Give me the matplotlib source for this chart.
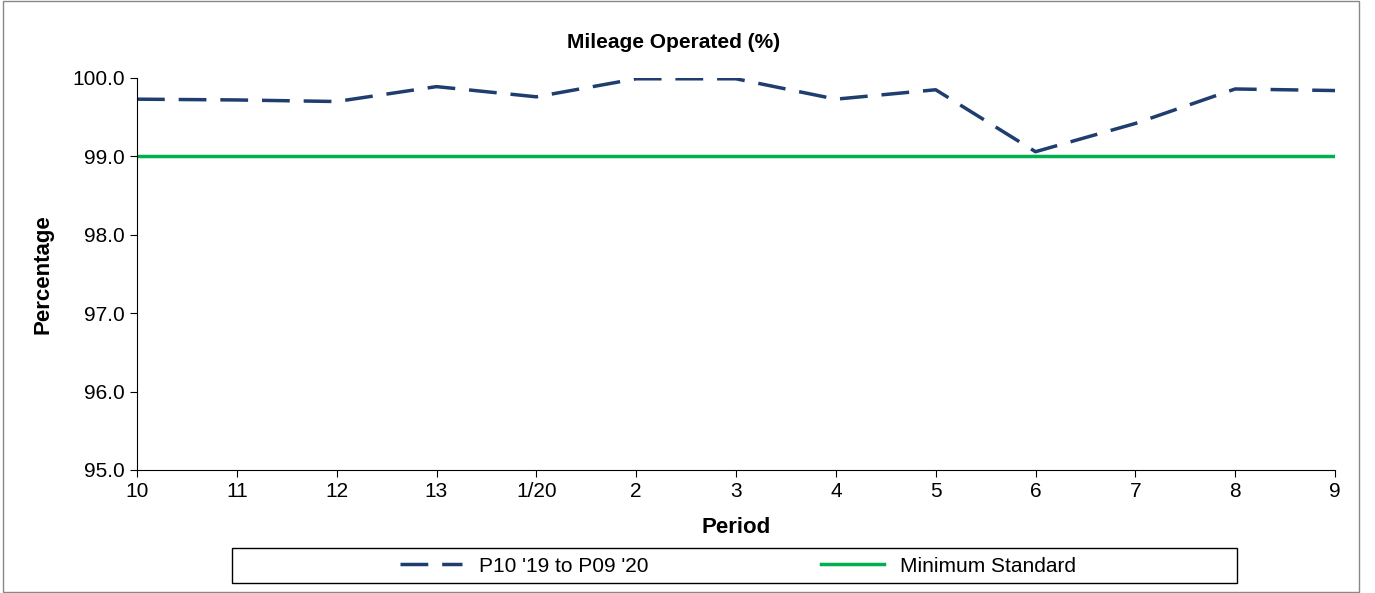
import matplotlib.pyplot as plt
from matplotlib.patches import Rectangle

periods = ["10", "11", "12", "13", "1/20", "2", "3", "4", "5", "6", "7", "8", "9"]
mileage = [99.73, 99.72, 99.70, 99.89, 99.76, 99.99, 99.99, 99.73, 99.85, 99.06, 99.42, 99.86, 99.84]
minimum = [99.0] * len(periods)

plt.rcParams['font.family'] = ['Liberation Sans', 'DejaVu Sans']
fig = plt.figure(figsize=(13.75, 5.93), dpi=100)
ax = fig.add_axes([137/1375, 1-470/593, (1335-137)/1375, (470-78)/593])
x = range(len(periods))
ax.plot(x, mileage, color="#1f3d6e", lw=2.5, dashes=(8, 4), label="P10 '19 to P09 '20")
ax.plot(x, minimum, color="#00b050", lw=2.5, label="Minimum Standard")
ax.set_xlim(0, len(periods) - 1)
ax.set_ylim(95, 100)
ax.set_xticks(list(x))
ax.set_xticklabels(periods, fontsize=15)
ax.set_yticks([95, 96, 97, 98, 99, 100])
ax.set_yticklabels([f"{v:.1f}" for v in [95, 96, 97, 98, 99, 100]], fontsize=15)
ax.tick_params(direction="out", length=5)
for s in ["top", "right"]:
    ax.spines[s].set_visible(False)
ax.set_xlabel("Period", fontsize=16, fontweight="bold", labelpad=12)
ax.set_ylabel("Percentage", fontsize=16, fontweight="bold", labelpad=14)
fig.text(0.49, 1-42/593, "Mileage Operated (%)", ha="center", va="center", fontsize=15, fontweight="bold")
fig.legend(loc="center", bbox_to_anchor=(738/1375, 1-566/593), ncol=2, fontsize=15,
           frameon=False, handlelength=3.0, columnspacing=8.3)
fig.patches.append(Rectangle((232/1375, 1-583/593), (1237-232)/1375, 35/593,
                             transform=fig.transFigure, fill=False, edgecolor="black", lw=1))
fig.patches.append(Rectangle((0.002, 0.002), 0.986, 0.996, transform=fig.transFigure,
                             fill=False, edgecolor="#888888", lw=1))
fig.savefig("out.png", dpi=100)
